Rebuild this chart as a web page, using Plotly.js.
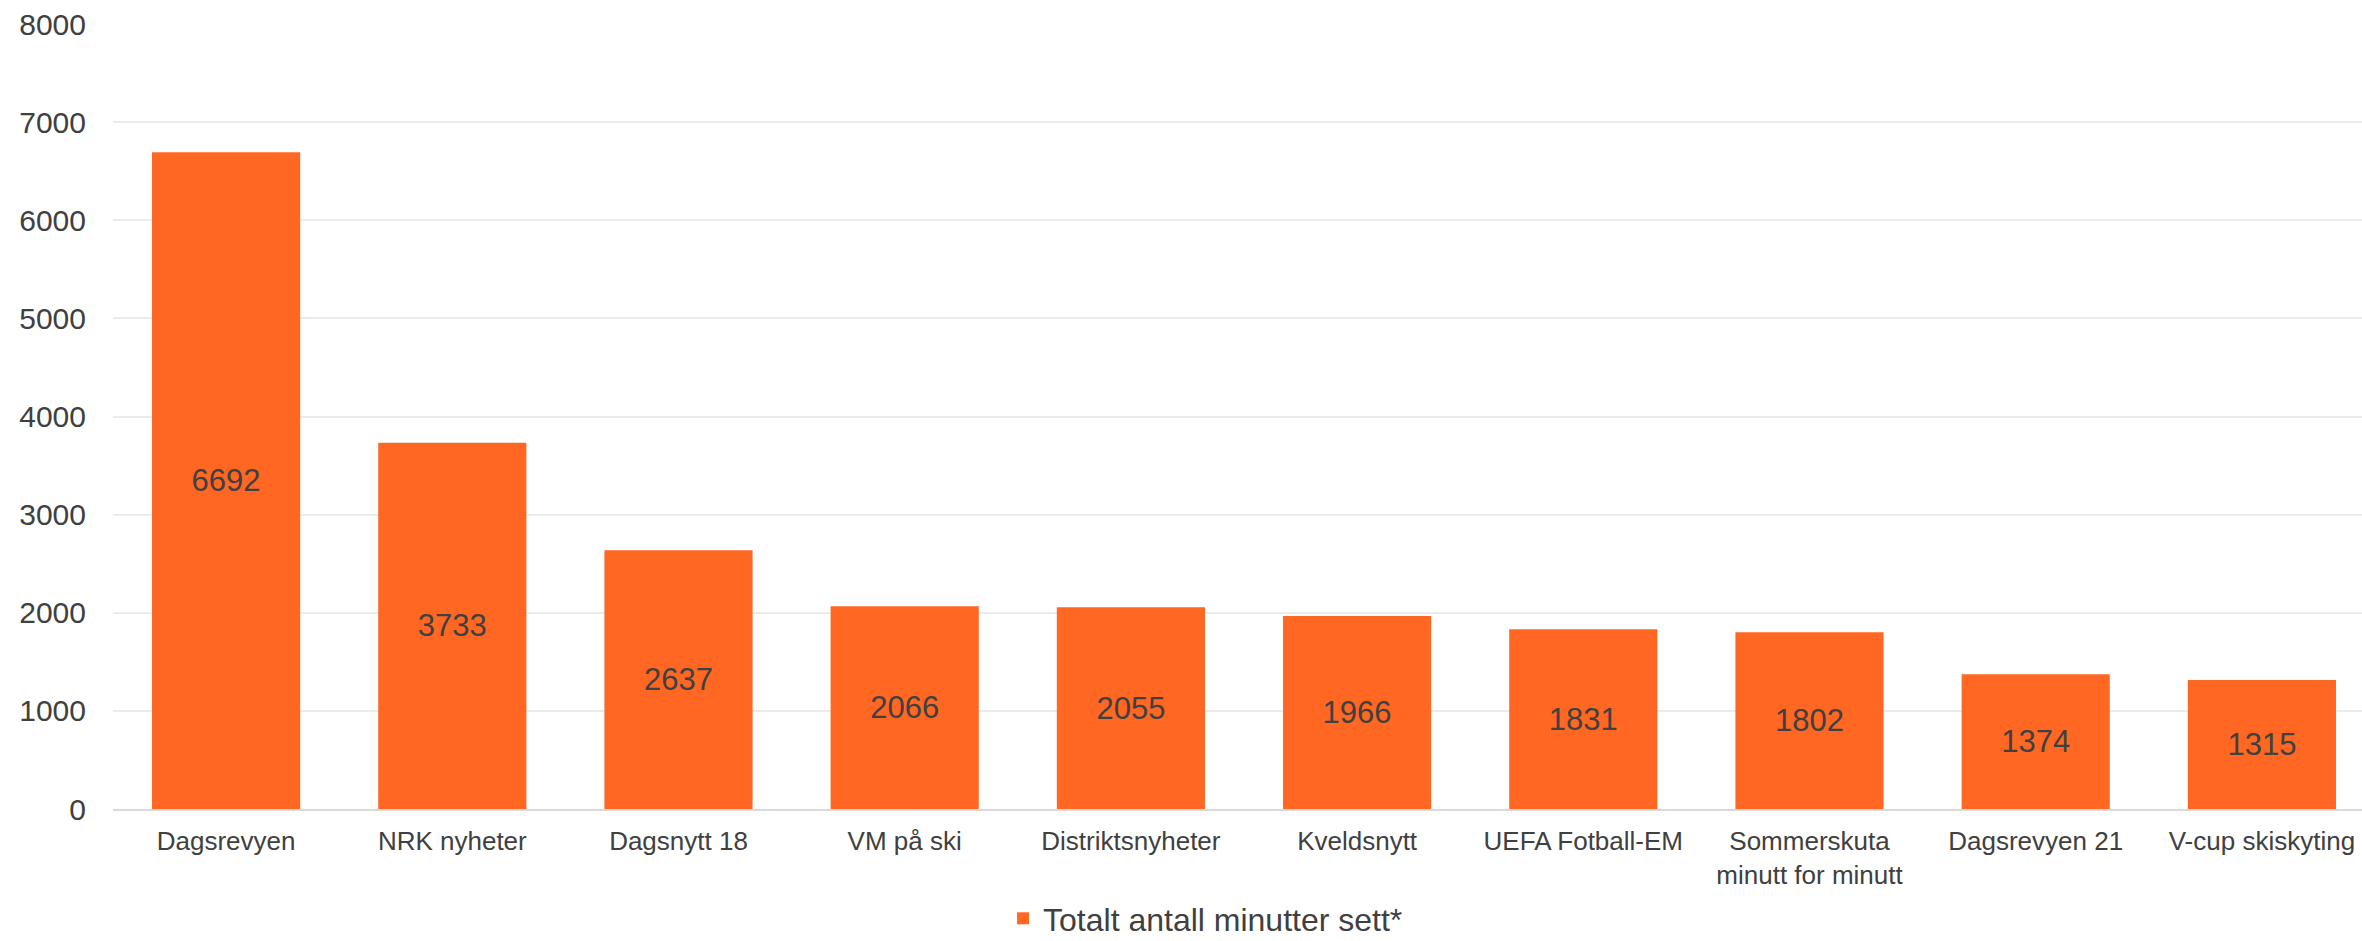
<!DOCTYPE html>
<html>
<head>
<meta charset="utf-8">
<script src="https://cdn.plot.ly/plotly-3.0.1.min.js"></script>
<style>
  html, body { margin: 0; padding: 0; background: #fff; overflow: hidden; }
  #plot { width: 2380px; height: 946px; }
</style>
</head>
<body>
<div id="plot"></div>
<script>
// Programmer og minutter sett
const programs = ['Dagsrevyen', 'NRK nyheter', 'Dagsnytt 18', 'VM på ski', 'Distriktsnyheter',
    'Kveldsnytt', 'UEFA Fotball-EM', 'Sommerskuta<br>minutt for minutt', 'Dagsrevyen 21', 'V-cup skiskyting'];
const minutes = [6692, 3733, 2637, 2066, 2055, 1966, 1831, 1802, 1374, 1315];
const seriesName = 'Totalt antall minutter sett*';
const yTicks = [0, 1000, 2000, 3000, 4000, 5000, 6000, 7000, 8000];

const FONT = 'Liberation Sans, Arial, sans-serif';
const TEXT = '#404040';
const ORANGE = '#ff6722';

const trace = {
    type: 'bar',
    x: programs,
    y: minutes,
    name: seriesName,
    marker: { color: ORANGE },
    text: minutes.map(String),
    textposition: 'inside',
    insidetextanchor: 'middle',
    textangle: 0,
    insidetextfont: { family: FONT, size: 31, color: TEXT },
    hoverinfo: 'none',
    showlegend: true
};

// bunnen går litt forbi vinduet så legenden havner nesten som i originalen
const layout = {
    width: 2380,
    height: 946,
    margin: { l: 113, r: 5, t: 24, b: 137 },
    paper_bgcolor: '#ffffff',
    plot_bgcolor: '#ffffff',
    font: { family: FONT, color: TEXT },
    bargap: 0.345,
    xaxis: {
        type: 'category',
        tickfont: { family: FONT, size: 26, color: TEXT },
        showgrid: false,
        showline: true,
        linecolor: '#d9d9d9',
        linewidth: 2,
        ticks: '',
        ticklabelstandoff: 8
    },
    yaxis: {
        range: [0, 8000],
        tickvals: yTicks,
        ticktext: yTicks.map(String),
        tickfont: { family: FONT, size: 30, color: TEXT },
        showgrid: true,
        gridcolor: '#ebebeb',
        gridwidth: 2,
        zeroline: false,
        showline: false,
        ticks: '',
        ticklabelstandoff: 26
    },
    legend: {
        orientation: 'h',
        x: 0.483,
        xanchor: 'center',
        yref: 'container',
        y: 0,
        yanchor: 'bottom',
        font: { family: FONT, size: 32, color: TEXT }
    },
    showlegend: true
};

Plotly.newPlot('plot', [trace], layout, { displayModeBar: false, staticPlot: true });
</script>
</body>
</html>
